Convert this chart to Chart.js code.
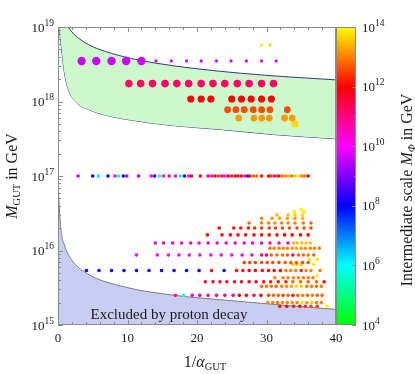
<!DOCTYPE html>
<html>
<head>
<meta charset="utf-8">
<script src="https://cdn.jsdelivr.net/npm/chart.js@4"></script>
<style>
  html, body { margin: 0; padding: 0; background: #fff; }
</style>
</head>
<body>
<canvas id="chart" width="415" height="374"></canvas>
<script>
// axis ranges and ticks
const xTickValues = [0, 10, 20, 30, 40];
const yTickExps = [15, 16, 17, 18, 19];
const cTickExps = [4, 6, 8, 10, 12, 14];

// allowed band (upper / lower edge), M_GUT in GeV vs 1/alpha
const bandTopX = [0.12, 0.8, 1.48, 2.5, 4.4, 6.8, 10.6, 14.0, 19.7, 26.4, 33.1, 40];
const bandTopY = [3.5e19, 1.35e19, 1e19, 7.7e18, 5.8e18, 4.7e18, 3.77e18, 3.28e18, 2.77e18, 2.39e18, 2.14e18, 1.95e18];
const bandLowX = [0.12, 0.3, 0.53, 0.9, 1.48, 2.5, 4.4, 7, 10.6, 16, 23.5, 31, 40];
const bandLowY = [1.1e19, 7.6e18, 4.9e18, 2.5e18, 1.45e18, 1.0e18, 7.8e17, 6.5e17, 5.6e17, 4.8e17, 4.2e17, 3.6e17, 3.16e17];

// proton decay bound
const protonX = [0.1, 0.24, 0.48, 0.96, 1.9, 4.2, 9.6, 16.8, 23, 33.1, 40];
const protonY = [5.6e16, 3.16e16, 1.74e16, 1.15e16, 7.6e15, 4.9e15, 3.24e15, 2.5e15, 2.2e15, 1.82e15, 1.62e15];

// points: x = 1/alpha_GUT, y = M_GUT, m = log10(M_Phi / GeV)
const tA_y = 5.75e18, tA_x = [29.3, 30.5], tA_m = [13.8, 13.7];
const tB_y = 3.5e18, tB_x = [3.4, 5.5, 7.7, 9.8, 12.0], tB_m = [9.6, 9.6, 9.6, 9.6, 9.6];
const tC_y = 3.5e18, tC_x = [14.1, 16.3, 18.5, 20.6, 22.8, 24.9, 27.1, 29.3, 31.4], tC_m = [9.6, 9.6, 9.6, 9.6, 9.6, 9.6, 9.6, 9.6, 9.6];
const tD_y = 1.74e18, tD_x = [10.2, 11.9, 13.6, 15.4, 17.1, 18.8, 20.6, 22.3, 24.0, 25.8, 27.5, 29.3, 31.0], tD_m = [11.2, 11.2, 11.2, 11.2, 11.2, 11.2, 11.2, 11.2, 11.2, 11.2, 11.2, 11.2, 11.2];
const tE_y = 1.08e18, tE_x = [19.1, 20.6, 22.0, 25.0, 26.4, 27.8, 29.3, 30.7], tE_m = [11.95, 11.95, 11.95, 11.95, 11.95, 11.95, 11.95, 11.95];
const tF_y = 7.76e17, tF_x = [24.4, 25.6, 26.8, 28.1, 29.3, 30.5, 33.0], tF_m = [12.6, 12.6, 12.6, 12.6, 12.6, 12.6, 12.6];
const tG_y = 6.0e17, tG_x = [26.0, 28.2, 29.3, 30.4, 32.6, 33.7], tG_m = [13.2, 13.2, 13.2, 13.2, 13.2, 13.2];
const tH_y = 5.0e17, tH_x = [34.1], tH_m = [13.7];

const mid_y = 1e17;
const mid_x = [2.9, 5.0, 5.8, 7.2, 8.2, 8.7, 9.4, 9.9, 11.6, 13.4, 13.9, 14.6, 15.2, 16.0, 16.9, 17.6, 18.2, 18.8, 19.2, 20.5,
  21.6, 22.1, 22.6, 23.1, 23.6, 24.0, 24.5, 25.0, 25.5, 25.9, 26.4, 26.9, 27.3, 27.6, 28.1, 28.6, 29.3, 30.3, 30.7, 31.2,
  31.7, 32.2, 32.7, 33.1, 33.6, 34.1, 34.6, 35.1, 35.5, 36.0];
const mid_m = [9.6, 8, 5.6, 8, 10, 5.4, 8, 9.5, 9.4, 10, 8, 5.5, 10, 11, 10.2, 5.5, 8.2, 10, 12, 12,
  11, 10, 12, 12.5, 11, 10, 12, 11, 12, 12, 12, 10, 8, 12, 12.8, 12.8, 12, 12, 12.5, 11,
  12, 12.8, 13, 13.3, 13, 13.5, 13.8, 13, 13, 12];

const r1_y = 3.55e16, r1_x = [35.0], r1_m = [13.9];
const r2_y = 3.3e16, r2_x = [34.0, 35.4], r2_m = [13.8, 13.8];
const r3_y = 3.0e16, r3_x = [31.5, 33.1, 34.1, 35.2], r3_m = [13.4, 13.5, 13.6, 13.7];
const r4_y = 2.7e16, r4_x = [29.3, 30.8, 31.9, 33.0, 34.1, 35.2], r4_m = [13.0, 13.2, 13.3, 13.3, 13.2, 13.4];
const r5_y = 2.34e16, r5_x = [27.5, 29.3, 30.3, 31.2, 32.2, 33.1, 34.1, 35.3, 36.4], r5_m = [12.8, 13.0, 13.0, 13.1, 13.0, 13.0, 13.0, 12.9, 12.8];
const r6_y = 2.0e16, r6_x = [23.2, 25.3, 26.3, 27.4, 28.3, 29.3, 30.4, 31.3, 32.3, 33.3, 34.4, 35.4, 36.4], r6_m = [12.0, 12.1, 12.2, 12.2, 12.3, 12.4, 12.4, 12.5, 12.5, 12.6, 12.6, 12.6, 12.6];
const r7_y = 1.62e16, r7_x = [21.5, 23.6, 24.8, 25.9, 27.0, 28.2, 29.3, 30.4, 31.5, 32.6, 33.7, 34.9, 36.0], r7_m = [11.9, 11.8, 11.8, 11.8, 11.8, 11.8, 11.9, 11.9, 12, 12, 12, 12, 12];
const r8_y = 1.26e16, r8_x = [14.0, 15.2, 16.5, 17.8, 19.1, 20.3, 21.6, 22.9, 24.2, 25.5, 26.8, 28.0, 29.3, 30.5, 31.8, 33.1, 33.9, 34.4, 35.1, 35.7, 36.3];
const r8_m = [10.6, 10.6, 10.6, 10.6, 10.6, 10.6, 10.6, 10.6, 10.6, 10.6, 10.6, 10.6, 10.6, 10.6, 10.6, 10.6, 13.5, 13.5, 13.5, 13.5, 13.5];
const r9_y = 1.07e16, r9_x = [30.5, 31.1, 31.8, 32.4, 33.0, 33.7, 34.3, 35.0, 35.6, 36.3, 36.9, 37.6], r9_m = [12.9, 13, 13, 13.1, 13, 13.2, 13.3, 13.2, 13.1, 13, 13, 12.9];
const r10_y = 8.7e15, r10_x = [11.3, 14.3, 15.9, 17.4, 18.9, 20.4, 22.0, 23.5, 25.0, 26.5, 27.9, 29.3, 30.0, 30.7, 31.5, 32.3, 33.0, 33.8, 34.6, 35.3, 36.0, 36.8];
const r10_m = [9.9, 9.9, 9.9, 9.9, 9.9, 9.9, 9.9, 9.9, 9.9, 9.9, 9.9, 11, 11.2, 12.8, 12.8, 12.9, 12.8, 11.2, 12.8, 12.9, 13, 12.8];
const r10b_y = 7.6e15, r10b_x = [36.2, 37.3], r10b_m = [13.8, 13.8];
const r11_y = 6.9e15, r11_x = [26.8, 27.6, 28.4, 29.3, 30.1, 30.9, 31.8, 32.7, 33.5, 34.3, 35.2, 36.0], r11_m = [12.5, 12.5, 12.5, 12.6, 12.6, 12.6, 12.6, 12.7, 12.7, 12.7, 12.6, 12.6];
const r11b_y = 6.5e15, r11b_x = [33.8, 34.4, 35.0, 36.8], r11b_m = [13.6, 13.6, 13.6, 13.8];
const r12_y = 5.4e15, r12_x = [4.1, 5.9, 7.7, 9.5, 11.3, 13.1, 14.9, 16.7, 18.5, 20.3, 22.1, 23.9, 25.7, 26.6, 27.5, 28.4, 29.4, 30.3, 31.1, 32.0, 32.8, 33.5, 34.2, 35.0, 35.7, 36.4, 37.7];
const r12_m = [8, 8, 8, 8, 8, 8, 8, 8, 8, 8, 12, 8, 12, 12, 12, 12, 12, 12, 12, 12, 13, 13, 13, 12.3, 13, 13, 13];
const r13_y = 4.3e15, r13_x = [31.2, 32.4, 33.1, 33.9, 34.6, 35.3, 36.0, 36.7], r13_m = [13, 13, 13, 13, 13, 13, 13, 13];
const r13b_y = 4.6e15, r13b_x = [37.3], r13b_m = [13.9];
const r14_y = 3.8e15, r14_x = [21.2, 22.3, 23.3, 24.3, 25.4, 26.4, 27.5, 28.5, 29.6, 30.6, 31.7, 32.8, 33.8, 34.9, 36.0, 37.2, 38.3];
const r14_m = [11.7, 11.7, 11.7, 11.7, 11.7, 11.7, 11.7, 11.7, 11.7, 12.2, 12.2, 12.2, 12.8, 12.8, 12.8, 12.8, 12.0];
const r15_y = 3.3e15, r15_x = [29.3, 30.0, 30.7, 31.4, 32.2, 32.9, 33.6, 34.3, 35.0, 35.8, 36.5, 37.2, 37.9], r15_m = [12.9, 13, 13, 12.9, 13, 13.1, 13.3, 13.7, 13.6, 13, 13, 12.9, 13];
const r16_y = 2.5e15, r16_x = [16.9, 18.1, 19.3, 20.4, 21.6, 22.8, 24.0, 25.2, 26.1, 27.1, 28.2, 29.2, 30.3, 31.0, 31.7, 32.4, 33.1, 33.8, 34.5, 35.2, 35.9, 36.6, 37.3, 38.0];
const r16_m = [10.8, 6.0, 10.8, 10.8, 10.8, 10.8, 10.8, 10.6, 12, 12, 11, 12, 12.6, 12.8, 12.8, 12.6, 12.8, 12.2, 12.8, 13, 12.8, 13, 12.8, 12.8];
const r17_y = 2.0e15, r17_x = [30.2, 30.9, 31.6, 32.3, 33.0, 33.7, 34.4, 35.1, 35.8, 36.5, 37.2, 37.9], r17_m = [13, 13, 12.9, 13, 13, 13.1, 13, 13.8, 13.2, 13.6, 13, 13];
const r18_y = 1.78e15, r18_x = [31.9, 32.9, 33.9, 34.8, 35.6, 36.4, 37.3, 38.7], r18_m = [12, 12, 12.2, 12, 12.3, 12.6, 12.4, 13.9];

const serif = '"Liberation Serif", "DejaVu Serif", serif';

function phiColor(m) {
    const h = ((120 + (m - 4) * 30) % 360 + 360) % 360;
    return 'hsl(' + h + ',100%,50%)';
}

function pts(y, xs, ms, r) {
    return {
        type: 'scatter',
        data: xs.map(x => ({ x: x, y: y })),
        pointRadius: r,
        pointHoverRadius: r,
        pointBackgroundColor: ms.map(phiColor),
        pointBorderWidth: 0,
        borderWidth: 0,
        showLine: false,
        order: 0
    };
}

function curve(xs, ys) {
    return xs.map((x, i) => ({ x: x, y: ys[i] }));
}

// draws text pieces [text, font, dy] one after another, centred on x
function richText(ctx, parts, x, y, align) {
    let w = 0;
    parts.forEach(p => { ctx.font = p[1]; w += ctx.measureText(p[0]).width; });
    let cx = align === 'left' ? x : (align === 'right' ? x - w : x - w / 2);
    ctx.textAlign = 'left';
    ctx.textBaseline = 'alphabetic';
    parts.forEach(p => {
        ctx.font = p[1];
        ctx.fillText(p[0], cx, y + (p[2] || 0));
        cx += ctx.measureText(p[0]).width;
    });
}

function power(ctx, exp, x, y, align) {
    richText(ctx, [['10', '13px ' + serif, 4.5], [String(exp), '9.5px ' + serif, -1.5]], x, y, align);
}

const decor = {
    id: 'decor',
    afterDraw(chart) {
        const ctx = chart.ctx;
        const a = chart.chartArea;
        const xs = chart.scales.x, ys = chart.scales.y, cs = chart.scales.c;
        ctx.save();

        // colour bar
        const cbL = a.right, cbR = a.right + 20;
        for (let py = Math.floor(a.top); py < Math.ceil(a.bottom); py++) {
            const m = Math.log10(cs.getValueForPixel(py + 0.5));
            ctx.fillStyle = phiColor(Math.max(4, Math.min(14, m)));
            ctx.fillRect(cbL, py, cbR - cbL, 1);
        }

        ctx.strokeStyle = '#8a8a8a';
        ctx.lineWidth = 1;
        ctx.strokeRect(a.left + 0.5, a.top + 0.5, a.right - a.left - 1, a.bottom - a.top - 1);
        ctx.strokeRect(cbL + 0.5, a.top + 0.5, cbR - cbL - 1, a.bottom - a.top - 1);

        ctx.beginPath();
        // x ticks, bottom and top
        for (let v = 0; v <= 40; v += 2) {
            const px = Math.round(xs.getPixelForValue(v)) + 0.5;
            const len = v % 10 === 0 ? 5 : 3;
            ctx.moveTo(px, a.bottom); ctx.lineTo(px, a.bottom - len);
            ctx.moveTo(px, a.top); ctx.lineTo(px, a.top + len);
        }
        // y ticks, left
        for (let e = 15; e <= 19; e++) {
            for (let k = 1; k <= 9; k++) {
                if (e === 19 && k > 1) break;
                const py = Math.round(ys.getPixelForValue(k * Math.pow(10, e))) + 0.5;
                const len = k === 1 ? 5 : 3;
                ctx.moveTo(a.left, py); ctx.lineTo(a.left + len, py);
            }
        }
        // colour bar ticks
        for (let e = 4; e <= 14; e++) {
            const py = Math.round(cs.getPixelForValue(Math.pow(10, e))) + 0.5;
            const len = e % 2 === 0 ? 4 : 2;
            ctx.moveTo(cbR, py); ctx.lineTo(cbR - len, py);
        }
        ctx.stroke();

        ctx.fillStyle = '#1a1a1a';
        // tick labels
        xTickValues.forEach(v => {
            ctx.font = '13px ' + serif;
            ctx.textAlign = 'center';
            ctx.textBaseline = 'alphabetic';
            ctx.fillText(String(v), xs.getPixelForValue(v), a.bottom + 17);
        });
        yTickExps.forEach(e => power(ctx, e, a.left - 4, ys.getPixelForValue(Math.pow(10, e)), 'right'));
        cTickExps.forEach(e => power(ctx, e, cbR + 6, cs.getPixelForValue(Math.pow(10, e)), 'left'));

        // axis titles
        richText(ctx, [['1/', '16px ' + serif], ['\u03b1', 'italic 16px ' + serif], ['GUT', '10.5px ' + serif, 3]],
            (a.left + a.right) / 2 + 8, 367, 'center');

        ctx.save();
        ctx.translate(17, (a.top + a.bottom) / 2);
        ctx.rotate(-Math.PI / 2);
        richText(ctx, [['M', 'italic 16px ' + serif], ['GUT', '10.5px ' + serif, 3], [' in GeV', '16px ' + serif]], 0, 0, 'center');
        ctx.restore();

        ctx.save();
        ctx.translate(412, 190);
        ctx.rotate(-Math.PI / 2);
        richText(ctx, [['Intermediate scale ', '16px ' + serif], ['M', 'italic 16px ' + serif],
            ['\u03a6', 'italic 10.5px ' + serif, 3], [' in GeV', '16px ' + serif]], 0, 0, 'center');
        ctx.restore();

        // region label
        ctx.font = '15px ' + serif;
        ctx.textAlign = 'center';
        ctx.fillText('Excluded by proton decay', 169, 319);

        ctx.restore();
    }
};

new Chart(document.getElementById('chart'), {
    type: 'scatter',
    data: {
        datasets: [
            pts(tA_y, tA_x, tA_m, 1.6),
            pts(tB_y, tB_x, tB_m, 4.2),
            pts(tC_y, tC_x, tC_m, 1.6),
            pts(tD_y, tD_x, tD_m, 3.8),
            pts(tE_y, tE_x, tE_m, 3.6),
            pts(tF_y, tF_x, tF_m, 3.4),
            pts(tG_y, tG_x, tG_m, 3.4),
            pts(tH_y, tH_x, tH_m, 3.6),
            pts(mid_y, mid_x, mid_m, 1.8),
            pts(r1_y, r1_x, r1_m, 1.8),
            pts(r2_y, r2_x, r2_m, 1.8),
            pts(r3_y, r3_x, r3_m, 1.8),
            pts(r4_y, r4_x, r4_m, 1.8),
            pts(r5_y, r5_x, r5_m, 1.8),
            pts(r6_y, r6_x, r6_m, 1.8),
            pts(r7_y, r7_x, r7_m, 1.8),
            pts(r8_y, r8_x, r8_m, 1.8),
            pts(r9_y, r9_x, r9_m, 1.8),
            pts(r10_y, r10_x, r10_m, 1.8),
            pts(r10b_y, r10b_x, r10b_m, 1.8),
            pts(r11_y, r11_x, r11_m, 1.8),
            pts(r11b_y, r11b_x, r11b_m, 1.8),
            pts(r12_y, r12_x, r12_m, 1.8),
            pts(r13_y, r13_x, r13_m, 1.8),
            pts(r13b_y, r13b_x, r13b_m, 1.8),
            pts(r14_y, r14_x, r14_m, 1.8),
            pts(r15_y, r15_x, r15_m, 1.8),
            pts(r16_y, r16_x, r16_m, 1.8),
            pts(r17_y, r17_x, r17_m, 1.8),
            pts(r18_y, r18_x, r18_m, 1.8),
            {
                type: 'line',
                data: curve(bandTopX, bandTopY),
                borderColor: '#35358c',
                borderWidth: 1,
                pointRadius: 0,
                fill: '+1',
                backgroundColor: '#ccf8cc',
                cubicInterpolationMode: 'monotone',
                order: 5
            },
            {
                type: 'line',
                data: curve(bandLowX, bandLowY),
                borderColor: '#35358c',
                borderWidth: 1,
                pointRadius: 0,
                fill: false,
                cubicInterpolationMode: 'monotone',
                order: 6
            },
            {
                type: 'line',
                data: curve(protonX, protonY),
                borderColor: '#7c7c7c',
                borderWidth: 1,
                pointRadius: 0,
                fill: 'start',
                backgroundColor: '#c9cdf1',
                cubicInterpolationMode: 'monotone',
                order: 7
            }
        ]
    },
    options: {
        responsive: false,
        animation: false,
        events: [],
        layout: { padding: { left: 58, right: 79, top: 27, bottom: 49 } },
        plugins: { legend: { display: false }, tooltip: { enabled: false } },
        scales: {
            x: { type: 'linear', min: 0, max: 40, display: false },
            y: { type: 'logarithmic', min: 1e15, max: 1e19, display: false },
            c: { type: 'logarithmic', axis: 'y', position: 'right', min: 1e4, max: 1e14, display: false }
        }
    },
    plugins: [decor]
});
</script>
</body>
</html>
